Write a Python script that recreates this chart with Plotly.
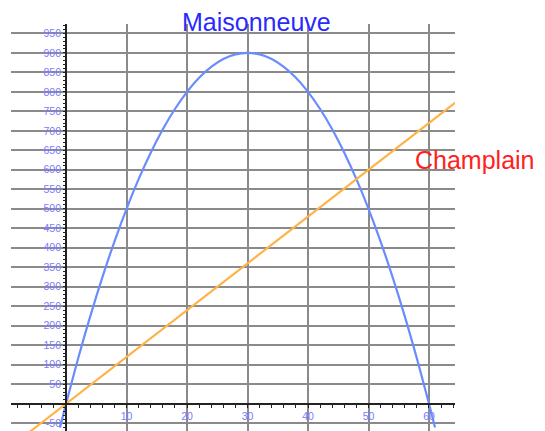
import plotly.graph_objects as go

# Maisonneuve (parabola) points
mais_x = [-1, 0, 2, 4, 6, 8, 10, 12, 14, 16, 18, 20, 22, 24, 26, 28, 30,
          32, 34, 36, 38, 40, 42, 44, 46, 48, 50, 52, 54, 56, 58, 60, 61]
mais_y = [-61, 0, 116, 224, 324, 416, 500, 576, 644, 704, 756, 800, 836, 864, 884, 896, 900,
          896, 884, 864, 836, 800, 756, 704, 644, 576, 500, 416, 324, 224, 116, 0, -61]

# Champlain (straight line) end points
champ_x = [-6, 65]
champ_y = [-72, 780]

x_ticks = [10, 20, 30, 40, 50, 60]
y_ticks = [-50, 50, 100, 150, 200, 250, 300, 350, 400, 450, 500, 550, 600, 650,
           700, 750, 800, 850, 900, 950]

x_range = [-9.1, 64.3]
y_range = [-70, 974]

fig = go.Figure()
fig.add_trace(go.Scatter(x=mais_x, y=mais_y, mode="lines",
                         line=dict(color="#6a8cff", width=2.2, shape="spline"),
                         showlegend=False, hoverinfo="skip"))
fig.add_trace(go.Scatter(x=champ_x, y=champ_y, mode="lines",
                         line=dict(color="#ffb347", width=2.2),
                         showlegend=False, hoverinfo="skip"))

tick_font = dict(family="Liberation Sans", size=10.5, color="#7b7bff")

fig.update_layout(
    width=537, height=423,
    margin=dict(l=3, r=90, t=16, b=0),
    paper_bgcolor="white", plot_bgcolor="white",
    xaxis=dict(range=x_range, tickvals=x_ticks, ticktext=[str(v) for v in x_ticks],
               showgrid=True, gridcolor="#8a8a8a", gridwidth=1.6,
               zeroline=False, showline=True, linecolor="#222", linewidth=1.8,
               anchor="free", position=(0 - y_range[0]) / (y_range[1] - y_range[0]),
               ticks="outside", ticklen=3, tickcolor="#222", automargin=False,
               minor=dict(dtick=2, ticks="outside", ticklen=3, tickcolor="#222", showgrid=False),
               tickfont=tick_font, fixedrange=True),
    yaxis=dict(range=y_range, tickvals=y_ticks, ticktext=[str(v) for v in y_ticks],
               showgrid=True, gridcolor="#8a8a8a", gridwidth=1.6,
               zeroline=False, showline=True, linecolor="#222", linewidth=1.8,
               anchor="free", position=(0 - x_range[0]) / (x_range[1] - x_range[0]),
               ticks="outside", ticklen=2, tickcolor="#222", automargin=False,
               minor=dict(dtick=10, ticks="outside", ticklen=2, tickcolor="#222", showgrid=False),
               tickfont=tick_font, fixedrange=True),
    annotations=[
        dict(x=(256 - 11) / 444, y=(431 - 22) / 407, xref="paper", yref="paper",
             text="Maisonneuve", showarrow=False, xanchor="center", yanchor="middle",
             font=dict(family="Liberation Sans", size=25, color="#2a2aff")),
        dict(x=(475 - 11) / 444, y=(431 - 160) / 407, xref="paper", yref="paper",
             text="Champlain", showarrow=False, xanchor="center", yanchor="middle",
             font=dict(family="Liberation Sans", size=25, color="#ff2020")),
    ],
)

fig.write_html("out.html")
